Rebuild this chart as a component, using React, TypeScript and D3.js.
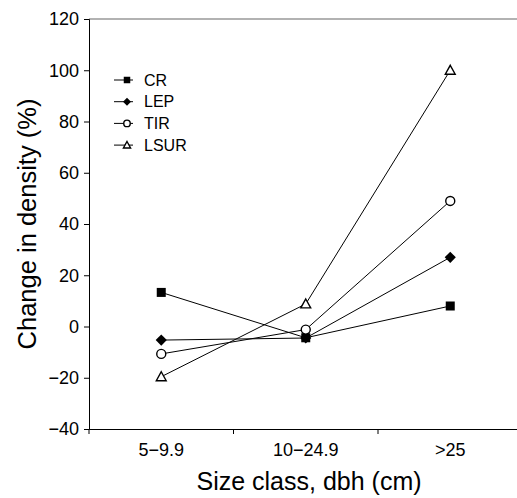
import React, { useEffect, useRef } from 'react';
import * as d3 from 'd3';

const sizeClasses = ['5\u22129.9', '10\u221224.9', '>25'];
const crValues = [13.3, -4.4, 8];
const lepValues = [-5.3, -4.5, 27];
const tirValues = [-10.7, -1.2, 49];
const lsurValues = [-19.6, 8.8, 100];
const yTicks = [-40, -20, 0, 20, 40, 60, 80, 100, 120];

const series = [
  { name: 'CR', values: crValues, shape: 'square' },
  { name: 'LEP', values: lepValues, shape: 'diamond' },
  { name: 'TIR', values: tirValues, shape: 'circle' },
  { name: 'LSUR', values: lsurValues, shape: 'triangle' },
];

const font = '"Liberation Sans", Arial, Helvetica, sans-serif';

function drawMarker(g, shape, x, y, s) {
  if (shape === 'square') {
    g.append('rect')
      .attr('x', x - s / 2).attr('y', y - s / 2)
      .attr('width', s).attr('height', s)
      .attr('fill', '#000');
  } else if (shape === 'diamond') {
    const h = s * 0.62;
    g.append('path')
      .attr('d', `M${x},${y - h}L${x + h},${y}L${x},${y + h}L${x - h},${y}Z`)
      .attr('fill', '#000');
  } else if (shape === 'circle') {
    g.append('circle')
      .attr('cx', x).attr('cy', y).attr('r', s / 2)
      .attr('fill', '#fff').attr('stroke', '#000').attr('stroke-width', 1.4);
  } else {
    const h = s * 0.55;
    g.append('path')
      .attr('d', `M${x},${y - h}L${x + h},${y + h * 0.8}L${x - h},${y + h * 0.8}Z`)
      .attr('fill', '#fff').attr('stroke', '#000').attr('stroke-width', 1.4);
  }
}

export default function App() {
  const ref = useRef(null);

  useEffect(() => {
    const svg = d3.select(ref.current);
    svg.selectAll('*').remove();

    const left = 89, top = 19, bottom = 429;
    const step = 144.5;

    const x = d3.scaleBand()
      .domain(sizeClasses)
      .range([left, left + step * sizeClasses.length])
      .padding(0);

    const y = d3.scaleLinear()
      .domain([-40, 120])
      .range([bottom, top]);

    const cx = d => x(d) + x.bandwidth() / 2;

    // top frame line
    svg.append('line')
      .attr('x1', left).attr('x2', left + step * 3)
      .attr('y1', top).attr('y2', top)
      .attr('stroke', '#666').attr('stroke-width', 1.2);

    const yAxis = d3.axisLeft(y).tickValues(yTicks).tickSize(5).tickPadding(5);
    const gy = svg.append('g')
      .attr('transform', `translate(${left},0)`)
      .call(yAxis);
    gy.selectAll('text').style('font-family', font).style('font-size', '18px').attr('fill', '#000');
    gy.selectAll('line,path').attr('stroke', '#000');

    const xAxis = d3.axisBottom(x).tickSize(0).tickPadding(14);
    const gx = svg.append('g')
      .attr('transform', `translate(0,${bottom})`)
      .call(xAxis);
    gx.select('.domain').attr('stroke', '#000');
    gx.selectAll('text').style('font-family', font).style('font-size', '18px').attr('fill', '#000');

    // tick marks at band boundaries
    gx.selectAll('.bound')
      .data(sizeClasses)
      .enter()
      .append('line')
      .attr('x1', d => x(d)).attr('x2', d => x(d))
      .attr('y1', 0).attr('y2', 5)
      .attr('stroke', '#000');

    const line = d3.line()
      .x((d, i) => cx(sizeClasses[i]))
      .y(d => y(d));

    series.forEach(s => {
      svg.append('path')
        .datum(s.values)
        .attr('d', line)
        .attr('fill', 'none')
        .attr('stroke', '#000')
        .attr('stroke-width', 1);
    });

    series.forEach(s => {
      const g = svg.append('g');
      s.values.forEach((v, i) => drawMarker(g, s.shape, cx(sizeClasses[i]), y(v), 9));
    });

    // legend
    const legend = svg.append('g');
    series.forEach((s, i) => {
      const ly = 80 + i * 21.7;
      legend.append('line')
        .attr('x1', 114).attr('x2', 133)
        .attr('y1', ly).attr('y2', ly)
        .attr('stroke', '#000');
      drawMarker(legend, s.shape, 127, ly, 6.5);
      legend.append('text')
        .attr('x', 144).attr('y', ly)
        .attr('dy', '0.36em')
        .style('font-family', font).style('font-size', '16px')
        .text(s.name);
    });

    svg.append('text')
      .attr('transform', `translate(36,${(top + bottom) / 2}) rotate(-90)`)
      .attr('text-anchor', 'middle')
      .style('font-family', font).style('font-size', '25.5px')
      .text('Change in density (%)');

    svg.append('text')
      .attr('x', 309).attr('y', 490)
      .attr('text-anchor', 'middle')
      .style('font-family', font).style('font-size', '25px')
      .text('Size class, dbh (cm)');
  }, []);

  return (
    <svg ref={ref} width={517} height={498}
      style={{ position: 'absolute', left: 0, top: 0, background: '#fff' }} />
  );
}
